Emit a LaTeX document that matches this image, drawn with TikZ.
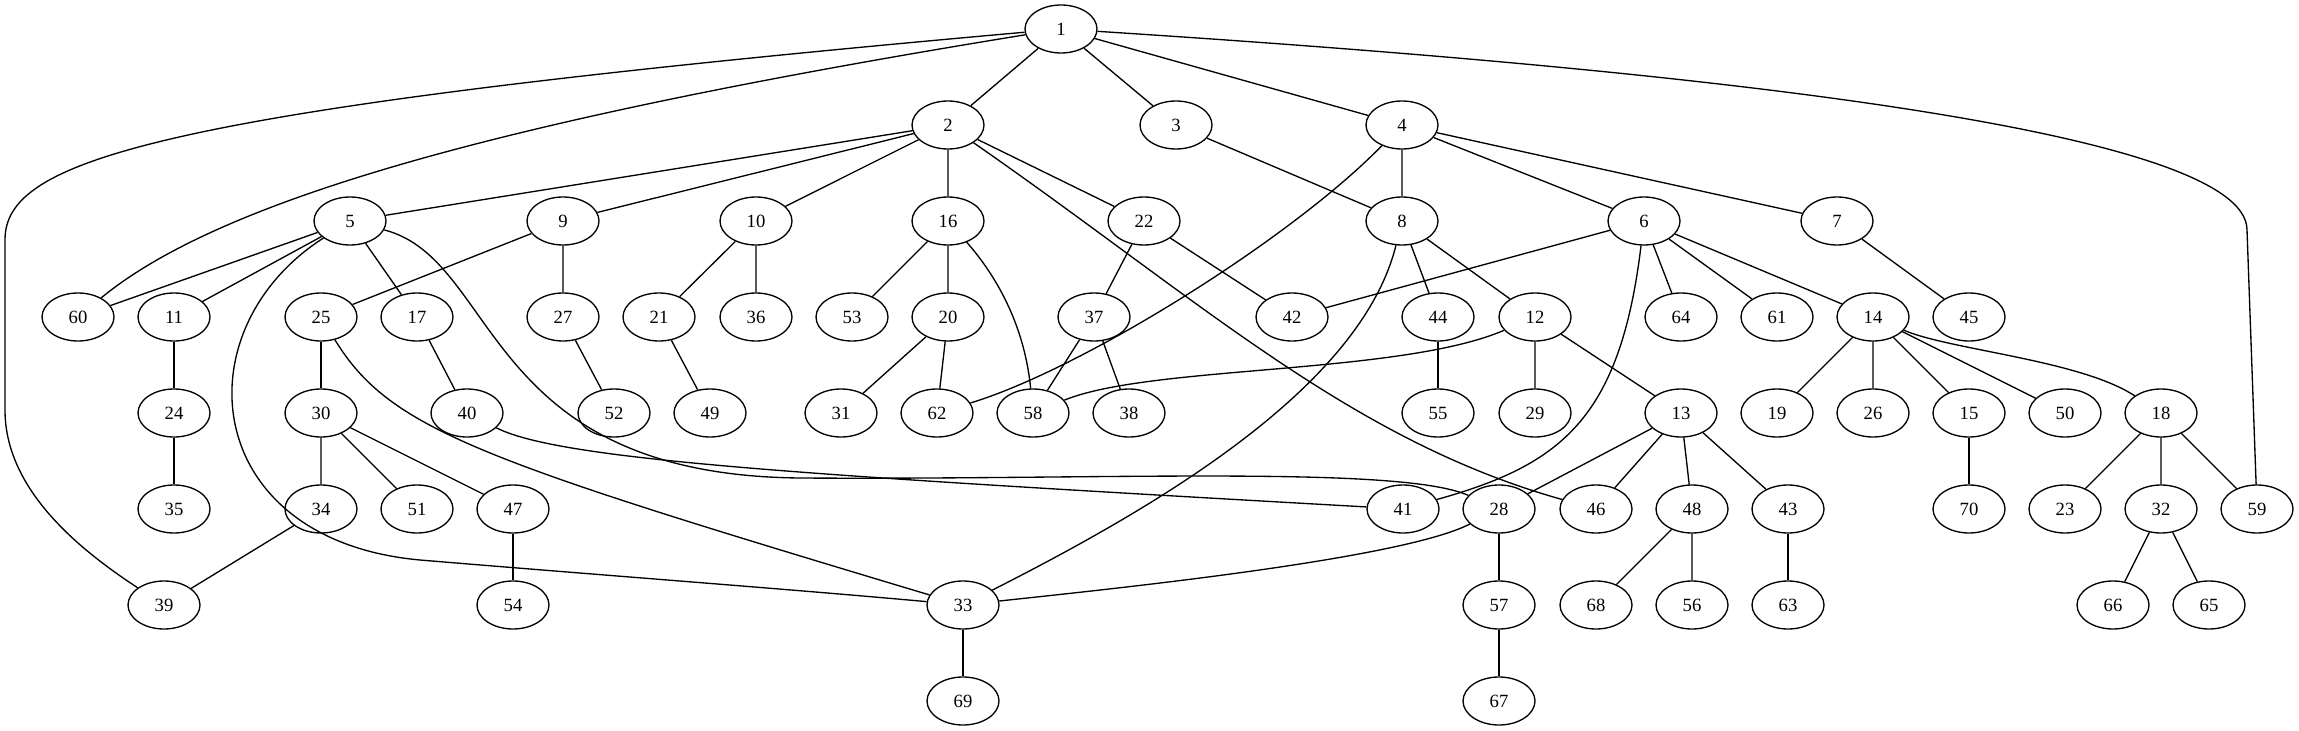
\documentclass[tikz,border=0pt]{standalone}
\usepackage{fontspec}
\setmainfont{Liberation Serif}
\usetikzlibrary{shapes.geometric}

\begin{document}
\begin{tikzpicture}[
  x=0.75pt, y=-0.75pt,
  vert/.style={ellipse, draw=black, line width=1pt, minimum width=54pt, minimum height=36pt, inner sep=0pt, font=\fontsize{14}{16}\selectfont},
  link/.style={draw=black, line width=1pt}
]
\useasboundingbox (0,0) rectangle (2299,731);

% ---------- rank 0 ----------
\node[vert] (n1) at (1061,29) {1};

% ---------- rank 1 ----------
\node[vert] (n2) at (948,125)  {2};
\node[vert] (n3) at (1176,125) {3};
\node[vert] (n4) at (1402,125) {4};

% ---------- rank 2 ----------
\node[vert] (n5)  at (350,221)  {5};
\node[vert] (n9)  at (563,221)  {9};
\node[vert] (n10) at (756,221)  {10};
\node[vert] (n16) at (948,221)  {16};
\node[vert] (n22) at (1144,221) {22};
\node[vert] (n8)  at (1402,221) {8};
\node[vert] (n6)  at (1644,221) {6};
\node[vert] (n7)  at (1837,221) {7};

% ---------- rank 3 ----------
\node[vert] (n60) at (78,317)   {60};
\node[vert] (n11) at (174,317)  {11};
\node[vert] (n25) at (321,317)  {25};
\node[vert] (n17) at (417,317)  {17};
\node[vert] (n27) at (563,317)  {27};
\node[vert] (n21) at (659,317)  {21};
\node[vert] (n36) at (756,317)  {36};
\node[vert] (n53) at (852,317)  {53};
\node[vert] (n20) at (948,317)  {20};
\node[vert] (n37) at (1094,317) {37};
\node[vert] (n42) at (1292,317) {42};
\node[vert] (n44) at (1438,317) {44};
\node[vert] (n12) at (1535,317) {12};
\node[vert] (n64) at (1681,317) {64};
\node[vert] (n61) at (1777,317) {61};
\node[vert] (n14) at (1873,317) {14};
\node[vert] (n45) at (1969,317) {45};

% ---------- rank 4 ----------
\node[vert] (n24) at (174,413)  {24};
\node[vert] (n30) at (321,413)  {30};
\node[vert] (n40) at (467,413)  {40};
\node[vert] (n52) at (614,413)  {52};
\node[vert] (n49) at (710,413)  {49};
\node[vert] (n31) at (841,413)  {31};
\node[vert] (n62) at (937,413)  {62};
\node[vert] (n58) at (1033,413) {58};
\node[vert] (n38) at (1129,413) {38};
\node[vert] (n55) at (1438,413) {55};
\node[vert] (n29) at (1535,413) {29};
\node[vert] (n13) at (1681,413) {13};
\node[vert] (n19) at (1777,413) {19};
\node[vert] (n26) at (1873,413) {26};
\node[vert] (n15) at (1969,413) {15};
\node[vert] (n50) at (2065,413) {50};
\node[vert] (n18) at (2161,413) {18};

% ---------- rank 5 ----------
\node[vert] (n35) at (174,509)  {35};
\node[vert] (n34) at (321,509)  {34};
\node[vert] (n51) at (417,509)  {51};
\node[vert] (n47) at (513,509)  {47};
\node[vert] (n41) at (1403,509) {41};
\node[vert] (n28) at (1499,509) {28};
\node[vert] (n46) at (1596,509) {46};
\node[vert] (n48) at (1692,509) {48};
\node[vert] (n43) at (1788,509) {43};
\node[vert] (n70) at (1969,509) {70};
\node[vert] (n23) at (2065,509) {23};
\node[vert] (n32) at (2161,509) {32};
\node[vert] (n59) at (2257,509) {59};

% ---------- rank 6 ----------
\node[vert] (n39) at (164,605)  {39};
\node[vert] (n54) at (513,605)  {54};
\node[vert] (n33) at (963,605)  {33};
\node[vert] (n57) at (1499,605) {57};
\node[vert] (n68) at (1596,605) {68};
\node[vert] (n56) at (1692,605) {56};
\node[vert] (n63) at (1788,605) {63};
\node[vert] (n66) at (2113,605) {66};
\node[vert] (n65) at (2209,605) {65};

% ---------- rank 7 ----------
\node[vert] (n69) at (963,701)  {69};
\node[vert] (n67) at (1499,701) {67};

% ---------- straight edges ----------
\draw[link] (n1) -- (n2)  (n1) -- (n3)  (n1) -- (n4);
\draw[link] (n2) -- (n5)  (n2) -- (n9)  (n2) -- (n10)  (n2) -- (n16)  (n2) -- (n22);
\draw[link] (n3) -- (n8);
\draw[link] (n4) -- (n8)  (n4) -- (n6)  (n4) -- (n7);
\draw[link] (n5) -- (n60)  (n5) -- (n11)  (n5) -- (n17);
\draw[link] (n9) -- (n25)  (n9) -- (n27);
\draw[link] (n10) -- (n21)  (n10) -- (n36);
\draw[link] (n16) -- (n53)  (n16) -- (n20);
\draw[link] (n22) -- (n37)  (n22) -- (n42);
\draw[link] (n8) -- (n44)  (n8) -- (n12);
\draw[link] (n6) -- (n42)  (n6) -- (n64)  (n6) -- (n61)  (n6) -- (n14);
\draw[link] (n7) -- (n45);
\draw[link] (n11) -- (n24)  (n24) -- (n35);
\draw[link] (n25) -- (n30);
\draw[link] (n17) -- (n40);
\draw[link] (n27) -- (n52);
\draw[link] (n21) -- (n49);
\draw[link] (n20) -- (n31)  (n20) -- (n62);
\draw[link] (n37) -- (n58)  (n37) -- (n38);
\draw[link] (n44) -- (n55);
\draw[link] (n12) -- (n29)  (n12) -- (n13);
\draw[link] (n14) -- (n19)  (n14) -- (n26)  (n14) -- (n15)  (n14) -- (n50);
\draw[link] (n30) -- (n34)  (n30) -- (n51)  (n30) -- (n47);
\draw[link] (n13) -- (n28)  (n13) -- (n46)  (n13) -- (n48)  (n13) -- (n43);
\draw[link] (n15) -- (n70);
\draw[link] (n18) -- (n23)  (n18) -- (n32)  (n18) -- (n59);
\draw[link] (n34) -- (n39);
\draw[link] (n47) -- (n54);
\draw[link] (n28) -- (n57)  (n57) -- (n67);
\draw[link] (n48) -- (n68)  (n48) -- (n56);
\draw[link] (n43) -- (n63);
\draw[link] (n32) -- (n66)  (n32) -- (n65);
\draw[link] (n33) -- (n69);

% ---------- curved edges ----------
\draw[link] (n1) .. controls (150,110) and (5,160) .. (5,240) -- (5,410) .. controls (5,490) and (80,550) .. (n39);
\draw[link] (n1) .. controls (500,120) and (220,200) .. (n60);
\draw[link] (n1) .. controls (1700,70) and (2247,130) .. (2247,230) -- (n59);
\draw[link] (n2) .. controls (1200,300) and (1350,440) .. (n46);
\draw[link] (n4) .. controls (1290,240) and (1080,370) .. (n62);
\draw[link] (n12) .. controls (1400,375) and (1150,365) .. (n58);
\draw[link] (n8) .. controls (1360,390) and (1150,510) .. (n33);
\draw[link] (n6) .. controls (1620,420) and (1560,465) .. (n41);
\draw[link] (n5) .. controls (500,260) and (480,475) .. (800,478) .. controls (1100,480) and (1400,465) .. (n28);
\draw[link] (n40) .. controls (560,460) and (800,475) .. (n41);
\draw[link] (n5) .. controls (180,330) and (200,540) .. (420,560) .. controls (600,575) and (800,590) .. (n33);
\draw[link] (n25) .. controls (390,430) and (480,460) .. (n33);
\draw[link] (n16) .. controls (1000,280) and (1025,330) .. (n58);
\draw[link] (n14) .. controls (1950,350) and (2080,360) .. (n18);
\draw[link] (n28) .. controls (1400,560) and (1100,590) .. (n33);

\end{tikzpicture}
\end{document}
